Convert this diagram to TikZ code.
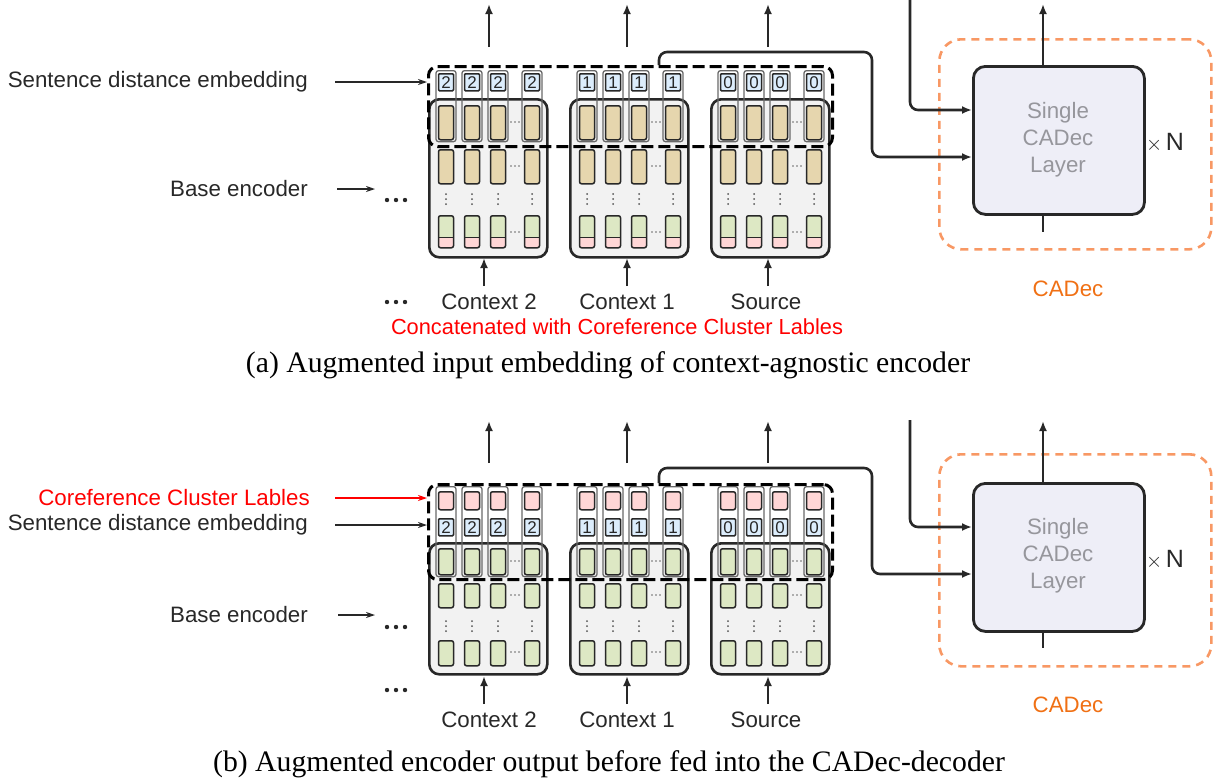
\documentclass[tikz,border=0pt]{standalone}
\usepackage{fontspec}
\setmainfont{Liberation Sans}
\newfontfamily\capfont{Liberation Serif}
\usetikzlibrary{arrows.meta}
\definecolor{tanc}{RGB}{230,214,174}
\definecolor{greenc}{RGB}{221,232,196}
\definecolor{pinkc}{RGB}{255,214,214}
\definecolor{bluec}{RGB}{220,237,252}
\definecolor{encfill}{RGB}{242,242,242}
\definecolor{decfill}{RGB}{238,238,247}
\definecolor{orangeb}{RGB}{248,152,100}
\definecolor{oranget}{RGB}{240,112,20}
\definecolor{ink}{RGB}{40,40,40}
\definecolor{graytext}{RGB}{150,150,156}
\tikzset{
  sans/.style={font=\fontsize{22.3}{27}\selectfont, text=ink, inner sep=0pt},
  capt/.style={font=\capfont\fontsize{29.7}{34}\selectfont, text=black, inner sep=0pt},
  encbox/.style={draw=ink, line width=2.6pt, rounded corners=10pt, fill=encfill, inner sep=0pt},
  colbox/.style={draw=ink!70, line width=1.3pt, rounded corners=2.5pt, inner sep=0pt, minimum width=20pt},
  cell/.style={draw=ink, line width=1.5pt, rounded corners=2pt, minimum width=15pt, inner sep=0pt},
  numcell/.style={cell, fill=bluec, rounded corners=1pt, minimum height=17pt, font=\fontsize{17}{17}\selectfont, text=ink},
  gpcell/.style={cell, fill=greenc, path picture={
      \fill[pinkc] (path picture bounding box.south west) rectangle ([yshift=10pt]path picture bounding box.south east);
      \draw[ink, line width=1.3pt] ([yshift=10pt]path picture bounding box.south west) -- ([yshift=10pt]path picture bounding box.south east);}},
  dashbox/.style={draw=black, line width=3pt, dash pattern=on 12pt off 5pt, rounded corners=9pt, inner sep=0pt},
  decbox/.style={draw=ink, line width=2.8pt, rounded corners=12pt, fill=decfill, inner sep=0pt},
  orbox/.style={draw=orangeb, line width=2.6pt, dash pattern=on 8pt off 6pt, rounded corners=22pt, inner sep=0pt},
  flow/.style={draw=ink, line width=2.6pt, -{Latex[length=10pt,width=8pt]}},
  plainflow/.style={draw=ink, line width=2.6pt},
  labarrow/.style={draw=ink, line width=1.3pt, -{Stealth[length=9pt,width=6pt]}},
  bigdot/.style={fill=ink},
}
\begin{document}
\begin{tikzpicture}[x=1pt,y=-1pt]
\useasboundingbox (0,0) rectangle (1215,780);

%================ PANEL (a) ================
\foreach \L/\nm/\num in {428/c/2, 569/b/1, 710/a/0}{
  \node[encbox, minimum width=118pt, minimum height=158pt, anchor=north west] (ea-\nm) at (\L,98) {};
  \foreach \dx [count=\i] in {18,44,70,104}{
    \pgfmathsetmacro\cx{\L+\dx}
    \node[colbox, minimum height=71pt, anchor=north] (cola-\nm-\i) at (\cx,70) {};
    \node[numcell, anchor=north] (na-\nm-\i) at (\cx,73) {\num};
    \node[cell, fill=tanc, minimum height=34pt, anchor=north] (ta-\nm-\i) at (\cx,105) {};
    \node[cell, fill=tanc, minimum height=34pt, anchor=north] (tb-\nm-\i) at (\cx,149) {};
    \node[gpcell, minimum height=32pt, anchor=north] (gp-\nm-\i) at (\cx,215) {};
    \foreach \yy in {194,199,204} \fill[ink!80] (\cx,\yy) circle (1pt);
  }
  \foreach \yr in {122,166,232}{
    \foreach \xx in {-4,0,4} \fill[ink!70] (\L+87+\xx,\yr) circle (0.85pt);
  }
}
\node[dashbox, minimum width=404pt, minimum height=80pt, anchor=north west] (da) at (427,65) {};

% top arrows
\coordinate (ta1) at (489,47); \coordinate (ta1e) at (489,4);
\coordinate (ta2) at (627,47); \coordinate (ta2e) at (627,4);
\coordinate (ta3) at (768,47); \coordinate (ta3e) at (768,4);
\draw[flow] (ta1) -- (ta1e);
\draw[flow] (ta2) -- (ta2e);
\draw[flow] (ta3) -- (ta3e);

% decoder
\node[orbox, minimum width=272pt, minimum height=210pt, anchor=north west] (oa) at (938,38) {};
\node[decbox, minimum width=171pt, minimum height=148pt, anchor=north west] (deca) at (972,65) {};
\node[font=\fontsize{22.3}{27}\selectfont, text=graytext, align=center, inner sep=0pt] (deca-t) at (1058,140) {Single\\CADec\\Layer};
\node[sans] (xna) at (1165,143) {$\times$\,{\fontsize{25}{25}\selectfont N}};
\node[font=\fontsize{22.3}{27}\selectfont, text=oranget, inner sep=0pt] (cadeca) at (1068,289) {CADec};
\coordinate (outa) at (1043,4);
\draw[flow] (deca.north -| outa) -- (outa);
\coordinate (stuba) at (1043,232);
\draw[plainflow] (deca.south -| stuba) -- (stuba);

% inputs to decoder
\coordinate (ina0) at (910,0);
\coordinate (ina1) at (910,110);
\draw[flow, rounded corners=8pt] (ina0) -- (ina1) -- (ina1 -| deca.west);
\coordinate (cna0) at (659,65);
\draw[flow, rounded corners=8pt] (cna0) -- (659,52) -- (872,52) -- (872,157) -- (deca.west |- 0,157);

% left labels
\node[sans, anchor=east] (sdea) at (308,82) {Sentence distance embedding};
\draw[labarrow] (335,82) -- (da.west |- sdea);
\node[sans, anchor=east] (bea) at (308,189) {Base encoder};
\coordinate (bea-e) at (375,189);
\draw[labarrow] (337,189) -- (bea-e);
\foreach \xx in {387,396,405} \fill[bigdot] (\xx,200) circle (2.2pt);
\foreach \xx in {387,396,405} \fill[bigdot] (\xx,302) circle (2.2pt);

% bottom inputs
\node[sans] (c2a) at (489,302) {Context 2};
\node[sans] (c1a) at (627,302) {Context 1};
\node[sans] (sra) at (766,302) {Source};
\draw[flow] (484,286) -- (484,258);
\draw[flow] (627,286) -- (627,258);
\draw[flow] (768,286) -- (768,258);
\node[font=\fontsize{21.8}{26}\selectfont, text=red, inner sep=0pt] (reda) at (617,327) {Concatenated with Coreference Cluster Lables};
\node[capt] (capa) at (608,365) {(a) Augmented input embedding of context-agnostic encoder};

%================ PANEL (b) ================
\foreach \L/\nm/\num in {428/c/2, 569/b/1, 710/a/0}{
  \node[encbox, minimum width=118pt, minimum height=131pt, anchor=north west] (eb-\nm) at (\L,542) {};
  \foreach \dx [count=\i] in {18,44,70,104}{
    \pgfmathsetmacro\cx{\L+\dx}
    \node[colbox, minimum height=90pt, anchor=north] (colb-\nm-\i) at (\cx,486) {};
    \node[cell, fill=pinkc, minimum height=18pt, anchor=north] (pb-\nm-\i) at (\cx,491) {};
    \node[numcell, anchor=north] (nb-\nm-\i) at (\cx,518) {\num};
    \node[cell, fill=greenc, minimum height=26pt, anchor=north] (g1-\nm-\i) at (\cx,548) {};
    \node[cell, fill=greenc, minimum height=24pt, anchor=north] (g2-\nm-\i) at (\cx,583) {};
    \node[cell, fill=greenc, minimum height=25pt, anchor=north] (g3-\nm-\i) at (\cx,640) {};
    \foreach \yy in {621,626,631} \fill[ink!80] (\cx,\yy) circle (1pt);
  }
  \foreach \yr in {561,595,652}{
    \foreach \xx in {-4,0,4} \fill[ink!70] (\L+87+\xx,\yr) circle (0.85pt);
  }
}
\node[dashbox, minimum width=404pt, minimum height=95pt, anchor=north west] (db) at (427,483) {};

\coordinate (tb1) at (489,463); \coordinate (tb1e) at (489,421);
\coordinate (tb2) at (627,463); \coordinate (tb2e) at (627,421);
\coordinate (tb3) at (768,463); \coordinate (tb3e) at (768,421);
\draw[flow] (tb1) -- (tb1e);
\draw[flow] (tb2) -- (tb2e);
\draw[flow] (tb3) -- (tb3e);

\node[orbox, minimum width=272pt, minimum height=212pt, anchor=north west] (ob) at (938,453) {};
\node[decbox, minimum width=171pt, minimum height=148pt, anchor=north west] (decb) at (972,482) {};
\node[font=\fontsize{22.3}{27}\selectfont, text=graytext, align=center, inner sep=0pt] (decb-t) at (1058,556) {Single\\CADec\\Layer};
\node[sans] (xnb) at (1165,560) {$\times$\,{\fontsize{25}{25}\selectfont N}};
\node[font=\fontsize{22.3}{27}\selectfont, text=oranget, inner sep=0pt] (cadecb) at (1068,705) {CADec};
\coordinate (outb) at (1043,421);
\draw[flow] (decb.north -| outb) -- (outb);
\coordinate (stubb) at (1043,648);
\draw[plainflow] (decb.south -| stubb) -- (stubb);

\coordinate (inb0) at (910,420);
\coordinate (inb1) at (910,527);
\draw[flow, rounded corners=8pt] (inb0) -- (inb1) -- (inb1 -| decb.west);
\coordinate (cnb0) at (659,483);
\draw[flow, rounded corners=8pt] (cnb0) -- (659,468) -- (872,468) -- (872,574) -- (decb.west |- 0,574);

\node[font=\fontsize{22.3}{27}\selectfont, text=red, inner sep=0pt, anchor=east] (ccl) at (310,498) {Coreference Cluster Lables};
\draw[draw=red, line width=1.3pt, -{Stealth[length=9pt,width=6pt]}] (335,498) -- (db.west |- ccl);
\node[sans, anchor=east] (sdeb) at (308,525) {Sentence distance embedding};
\draw[labarrow] (335,525) -- (db.west |- sdeb);
\node[sans, anchor=east] (beb) at (308,615) {Base encoder};
\coordinate (beb-e) at (375,615);
\draw[labarrow] (338,615) -- (beb-e);
\foreach \xx in {387,396,405} \fill[bigdot] (\xx,627) circle (2.2pt);
\foreach \xx in {387,396,405} \fill[bigdot] (\xx,690) circle (2.2pt);

\node[sans] (c2b) at (489,720) {Context 2};
\node[sans] (c1b) at (627,720) {Context 1};
\node[sans] (srb) at (766,720) {Source};
\draw[flow] (484,704) -- (484,676);
\draw[flow] (627,704) -- (627,676);
\draw[flow] (768,704) -- (768,676);
\node[capt] (capb) at (609,764) {(b) Augmented encoder output before fed into the CADec-decoder};
\end{tikzpicture}
\end{document}
